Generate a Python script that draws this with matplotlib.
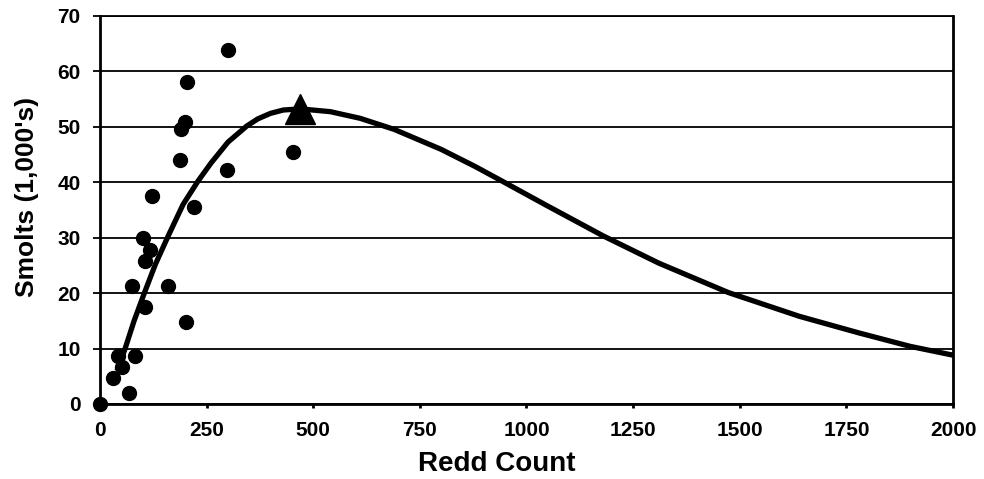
import numpy as np
import matplotlib
matplotlib.use('Agg')
import matplotlib.pyplot as plt

plt.rcParams['font.family'] = ['Liberation Sans', 'DejaVu Sans']
plt.rcParams['font.weight'] = 'bold'

# observed smolts vs redd count
redds = [0, 31, 43, 51, 69, 82, 105, 74, 160, 202, 105, 117, 102, 121, 221,
         188, 190, 200, 203, 301, 297, 453]
smolts = [0, 4.7, 8.6, 6.7, 1.9, 8.7, 17.5, 21.2, 21.2, 14.8, 25.7, 27.8, 29.9,
          37.5, 35.6, 44.0, 49.6, 50.8, 58.1, 63.9, 42.2, 45.5]

# maximum point (triangle)
peak_redds = [469]
peak_smolts = [53.2]

# fitted stock-recruit curve
curve_redds = [40, 59, 80, 105, 130, 160, 195, 230, 260, 300, 344, 370, 400,
               430, 470, 540, 610, 690, 800, 880, 940, 1047, 1180, 1310, 1473,
               1640, 1780, 1899, 2000]
curve_smolts = [6.0, 10.0, 15.0, 20.2, 25.2, 30.3, 36.0, 40.2, 43.4, 47.2,
                50.1, 51.4, 52.4, 53.0, 53.2, 52.7, 51.5, 49.5, 45.9, 42.8,
                40.3, 35.8, 30.3, 25.4, 20.1, 15.8, 12.8, 10.4, 8.8]

fig = plt.figure(figsize=(9.84, 4.79), dpi=100)
ax = fig.add_axes([0.1016, 0.1566, 0.9685 - 0.1016, 0.9672 - 0.1566])

ax.set_xlim(0, 2000)
ax.set_ylim(0, 70)
ax.set_xticks(np.arange(0, 2001, 250))
ax.set_yticks(np.arange(0, 71, 10))

ax.yaxis.grid(True, color='black', linewidth=1.3)
ax.set_axisbelow(True)

ax.plot(curve_redds, curve_smolts, color='black', linewidth=3.8,
        solid_joinstyle='round', solid_capstyle='butt', zorder=3)
ax.plot(redds, smolts, 'o', color='black', markersize=10, zorder=4,
        clip_on=False)
ax.plot(peak_redds, peak_smolts, '^', color='black', markersize=22, zorder=5)

for side in ['left', 'right', 'bottom']:
    ax.spines[side].set_linewidth(2)
ax.spines['top'].set_linewidth(1.3)

ax.tick_params(axis='y', direction='out', length=5, width=1.3, pad=9,
               labelsize=15)
ax.tick_params(axis='x', direction='out', length=3, width=2, pad=9,
               labelsize=15)
for lab in ax.get_xticklabels() + ax.get_yticklabels():
    lab.set_fontweight('bold')

ax.set_xlabel('Redd Count', fontsize=20, fontweight='bold')
ax.set_ylabel("Smolts (1,000's)", fontsize=19, fontweight='bold')
ax.xaxis.set_label_coords(0.465, -0.12)
ax.yaxis.set_label_coords(-0.072, 0.533)

fig.savefig('out.png', dpi=100)
